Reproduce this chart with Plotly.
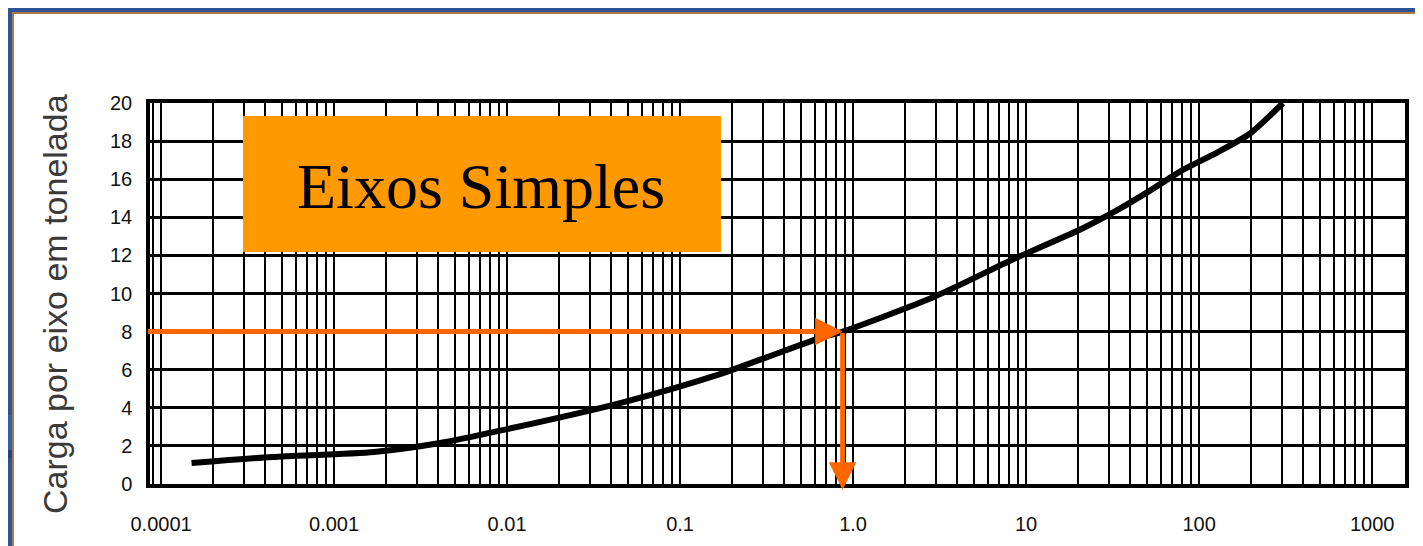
import numpy as np
import plotly.graph_objects as go

# ---- data ----
esal_factor = [0.00015, 0.00044, 0.0017, 0.0041, 0.0091, 0.045, 0.17, 0.64, 0.87,
               2.9, 8.9, 21, 34, 52, 81, 127, 197, 305]
axle_load_t = [1.1, 1.42, 1.68, 2.15, 2.8, 4.25, 5.77, 7.66, 8.0,
               9.8, 11.9, 13.4, 14.4, 15.4, 16.5, 17.4, 18.4, 20.0]

x_tick_vals = [0.0001, 0.001, 0.01, 0.1, 1.0, 10, 100, 1000]
x_tick_text = ["0.0001", "0.001", "0.01", "0.1", "1.0", "10", "100", "1000"]
y_tick_vals = [0, 2, 4, 6, 8, 10, 12, 14, 16, 18, 20]
y_tick_text = [str(v) for v in y_tick_vals]

example_load = 8.0      # t
example_factor = 0.87   # where the 8 t line meets the curve (as drawn)

box_label = "Eixos Simples"
y_title = "Carga por eixo em tonelada"

# ---- layout geometry (page has an 8px body margin) ----
OFF = 8
PAGE_W, PAGE_H = 1423, 546
W, H = PAGE_W - OFF, PAGE_H - OFF
PLOT_L, PLOT_R, PLOT_T, PLOT_B = 150, 1405, 103, 484   # page pixels
ML, MT = PLOT_L - OFF, PLOT_T - OFF
MR, MB = (W + OFF) - PLOT_R, (H + OFF) - PLOT_B
PW, PH = PLOT_R - PLOT_L, PLOT_B - PLOT_T
x_range = [-4.064, 3.19]
y_range = [0, 20]


def px(xp):
    return (xp - PLOT_L) / PW


def py(yp):
    return (PLOT_B - yp) / PH


minor_vals = [m * 10.0 ** k for k in range(-5, 4) for m in range(2, 10)]

fig = go.Figure()
fig.add_trace(go.Scatter(
    x=esal_factor, y=axle_load_t, mode="lines",
    line=dict(color="black", width=6, shape="spline", smoothing=0.7),
    showlegend=False, hoverinfo="skip"))

axis_font = dict(family="Liberation Sans, Arial, sans-serif", size=20, color="#111111")

fig.update_xaxes(
    type="log", range=x_range,
    tickmode="array", tickvals=x_tick_vals, ticktext=x_tick_text,
    showgrid=True, gridcolor="black", gridwidth=2.4,
    minor=dict(tickmode="array", tickvals=minor_vals, showgrid=True,
               gridcolor="black", gridwidth=2, ticks=""),
    showline=True, mirror=True, linecolor="black", linewidth=3.5,
    ticks="outside", ticklen=19, tickcolor="rgba(0,0,0,0)",
    tickfont=axis_font, zeroline=False)

fig.update_yaxes(
    range=y_range, tickmode="array", tickvals=y_tick_vals, ticktext=y_tick_text,
    showgrid=True, gridcolor="black", gridwidth=3,
    showline=True, mirror=True, linecolor="black", linewidth=3.5,
    ticks="outside", ticklen=10, tickcolor="rgba(0,0,0,0)",
    tickfont=axis_font, zeroline=False)

shapes = []
# slide frame (top and left bands, as near the edge as the page allows)
shapes.append(dict(type="rect", xref="paper", yref="paper", x0=px(OFF), x1=px(PAGE_W), y0=py(OFF), y1=py(OFF + 4),
                   fillcolor="#2E5496", line=dict(width=0), layer="above"))
shapes.append(dict(type="rect", xref="paper", yref="paper", x0=px(OFF + 4), x1=px(PAGE_W), y0=py(OFF + 4), y1=py(OFF + 6),
                   fillcolor="#B07A45", line=dict(width=0), layer="above"))
shapes.append(dict(type="rect", xref="paper", yref="paper", x0=px(OFF), x1=px(OFF + 4), y0=py(OFF), y1=py(PAGE_H),
                   fillcolor="#2E5496", line=dict(width=0), layer="above"))
shapes.append(dict(type="rect", xref="paper", yref="paper", x0=px(OFF), x1=px(OFF + 4), y0=py(415), y1=py(450),
                   fillcolor="#2F62AA", line=dict(width=0), layer="above"))
shapes.append(dict(type="rect", xref="paper", yref="paper", x0=px(OFF), x1=px(OFF + 4), y0=py(450), y1=py(458),
                   fillcolor="#24427E", line=dict(width=0), layer="above"))
shapes.append(dict(type="rect", xref="paper", yref="paper", x0=px(OFF + 4), x1=px(OFF + 6), y0=py(OFF + 4), y1=py(PAGE_H),
                   fillcolor="#B07A45", line=dict(width=0), layer="above"))
# orange label box
shapes.append(dict(type="rect", xref="paper", yref="paper", x0=px(243), x1=px(721), y0=py(252), y1=py(116),
                   fillcolor="#FF9900", line=dict(width=0), layer="above"))

annotations = [
    # y-axis title
    dict(xref="paper", yref="paper", x=px(55), y=py(304), text=y_title, showarrow=False,
         textangle=-90, xanchor="center", yanchor="middle",
         font=dict(family="Liberation Sans, Arial, sans-serif", size=34, color="#3a3a3a")),
    dict(xref="paper", yref="paper", x=px(481), y=py(186), text=box_label, showarrow=False,
         font=dict(family="Liberation Serif, Times New Roman, serif", size=64, color="black"),
         xanchor="center", yanchor="middle"),
    # horizontal arrow at 8 t to the curve
    dict(x=np.log10(example_factor), y=example_load, xref="x", yref="y",
         ax=x_range[0] - 0.02, ay=example_load, axref="x", ayref="y",
         text="", showarrow=True, arrowhead=2, arrowsize=1.1, arrowwidth=5,
         arrowcolor="#FF6600", standoff=0),
    # vertical arrow down to the axis
    dict(x=np.log10(example_factor), y=y_range[0] - 0.3, xref="x", yref="y",
         ax=np.log10(example_factor), ay=example_load, axref="x", ayref="y",
         text="", showarrow=True, arrowhead=2, arrowsize=1.1, arrowwidth=5,
         arrowcolor="#FF6600", standoff=0),
]

fig.update_layout(
    width=W, height=H, margin=dict(l=ML, r=MR, t=MT, b=MB, pad=0),
    paper_bgcolor="white", plot_bgcolor="white",
    shapes=shapes, annotations=annotations, showlegend=False)

fig.write_html("out.html")
